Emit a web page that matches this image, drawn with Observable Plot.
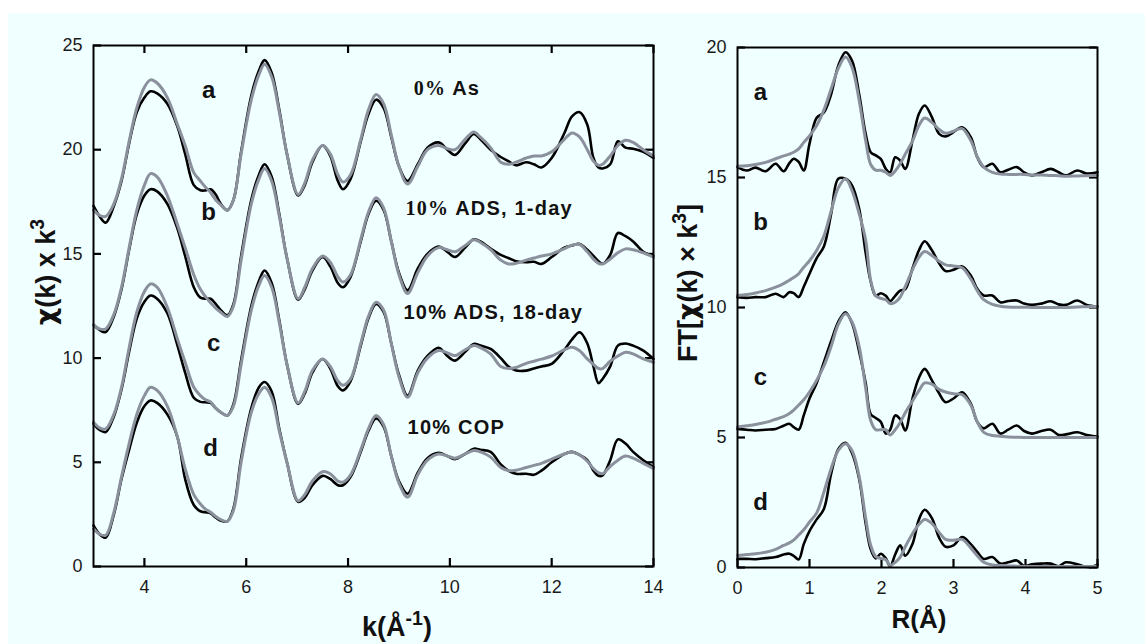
<!DOCTYPE html>
<html>
<head>
<meta charset="utf-8">
<script src="https://cdn.jsdelivr.net/npm/d3@7"></script>
<script src="https://cdn.jsdelivr.net/npm/@observablehq/plot@0.6"></script>
<style>
  html, body { margin: 0; padding: 0; background: #ffffff; }
  #page { position: relative; width: 1147px; height: 644px; overflow: hidden;
          font-family: "Liberation Sans", Arial, sans-serif; }
  #panel-bg { position: absolute; left: 8px; top: 13px; width: 1137px; height: 631px; background: #f0ffff; }
  .chart { position: absolute; top: 0; }
  .title { position: absolute; font-weight: bold; color: #111; white-space: nowrap;
           transform: translate(-50%, -50%); line-height: 1; }
  .title.rot { transform: translate(-50%, -50%) rotate(-90deg); }
  .title sup { font-size: 0.72em; vertical-align: 0.55em; line-height: 0; }
  .chi { font-family: "DejaVu Sans", sans-serif; }
</style>
</head>
<body>
<div id="page">
  <div id="panel-bg"></div>
  <div id="left" class="chart" style="left:0px"></div>
  <div id="right" class="chart" style="left:660px"></div>
  <div class="title" style="left:397px; top:627px; font-size:27px;">k(Å<sup>-1</sup>)</div>
  <div class="title" style="left:919px; top:619px; font-size:26px;">R(Å)</div>
  <div class="title rot" style="left:46px; top:272px; font-size:27px;"><span class="chi">χ</span>(k) x k<sup>3</sup></div>
  <div class="title rot" style="left:688px; top:283px; font-size:27px;">FT[<span class="chi">χ</span>(k) × k<sup>3</sup>]</div>
</div>
<script>
// ---- k-space EXAFS, chi(k)*k^3 (offset spectra) ----
const kGrid = [3.0, 3.12, 3.24, 3.4, 3.55, 3.7, 3.85, 4.0, 4.12, 4.25,
  4.45, 4.65, 4.8, 4.97, 5.1, 5.2, 5.3, 5.4, 5.5, 5.63,
  5.75, 5.9, 6.1, 6.25, 6.36, 6.5, 6.65, 6.8, 7.02, 7.15,
  7.3, 7.5, 7.65, 7.8, 7.9, 8.05, 8.25, 8.4, 8.55, 8.7,
  8.85, 9.0, 9.17, 9.37, 9.56, 9.78, 9.95, 10.1, 10.3, 10.47,
  10.6, 10.8, 11.0, 11.15, 11.3, 11.5, 11.65, 11.8, 12.0, 12.25,
  12.4, 12.55, 12.7, 12.82, 12.92, 13.0, 13.15, 13.3, 13.45, 13.6,
  13.8, 14.0];

const chiA = [17.3, 16.8, 16.5, 17.3, 18.5, 20.3, 21.8, 22.5, 22.8, 22.7,
  22.2, 21.1, 19.8, 18.3, 18.05, 18.05, 18.1, 17.85, 17.4, 17.1,
  17.6, 19.9, 22.6, 23.8, 24.3, 23.7, 21.9, 19.8, 17.8, 18.3,
  19.4, 20.2, 19.7, 18.5, 18.1, 18.6, 20.4, 21.7, 22.4, 22.0,
  20.6, 19.2, 18.5, 19.3, 20.1, 20.35, 20.0, 19.75, 20.3, 20.75,
  20.5, 20.0, 19.65, 19.45, 19.25, 19.4, 19.3, 19.15, 19.6, 20.8,
  21.6, 21.8, 21.2, 19.6, 19.15, 19.1, 19.3, 20.4, 20.1, 20.05,
  19.9, 19.6];
const chiAfit = [17.1, 16.85, 16.8, 17.4, 18.6, 20.4, 22.0, 23.0, 23.35, 23.2,
  22.5, 21.2, 20.2, 18.9, 18.5, 18.2, 17.95, 17.6, 17.35, 17.1,
  17.6, 19.8, 22.4, 23.6, 24.1, 23.5, 21.8, 19.8, 17.85, 18.4,
  19.5, 20.2, 19.8, 18.8, 18.45, 18.8, 20.5, 21.9, 22.65, 22.2,
  20.7, 19.2, 18.35, 19.2, 20.0, 20.2, 20.05, 20.0, 20.5, 20.85,
  20.6, 20.1, 19.4, 19.3, 19.4, 19.6, 19.7, 19.7, 19.9, 20.5,
  20.8, 20.6, 20.0, 19.45, 19.25, 19.3, 19.7, 20.2, 20.45, 20.35,
  20.0, 19.7];
const chiB = [11.6, 11.35, 11.25, 12.0, 13.3, 15.2, 16.9, 17.8, 18.1, 18.0,
  17.4, 16.2, 14.9, 13.4, 12.9, 12.85, 12.85, 12.6, 12.3, 12.05,
  12.6, 14.9, 17.6, 18.8, 19.3, 18.7, 16.9, 14.8, 12.8, 13.3,
  14.2, 14.85, 14.4, 13.6, 13.4, 13.9, 15.6, 16.9, 17.55, 17.1,
  15.6, 14.1, 13.25, 14.3, 15.0, 15.35, 15.1, 14.85, 15.3, 15.7,
  15.6, 15.25, 14.95, 14.8, 14.65, 14.6, 14.62, 14.52, 14.85, 15.3,
  15.4, 15.48, 15.2, 14.9, 14.65, 14.52, 14.95, 16.0, 15.85, 15.6,
  15.1, 14.9];
const chiBfit = [11.6, 11.4, 11.4, 12.1, 13.4, 15.3, 17.1, 18.3, 18.85, 18.7,
  17.8, 16.4, 15.3, 14.0, 13.3, 12.95, 12.65, 12.4, 12.2, 12.0,
  12.5, 14.7, 17.4, 18.6, 19.1, 18.5, 16.8, 14.8, 12.85, 13.4,
  14.3, 14.9, 14.6, 13.9, 13.65, 14.0, 15.7, 17.0, 17.7, 17.2,
  15.6, 14.0, 13.1, 14.1, 14.9, 15.3, 15.2, 15.1, 15.4, 15.68,
  15.55, 15.2, 14.7, 14.52, 14.55, 14.7, 14.8, 14.9, 15.0, 15.25,
  15.42, 15.45, 15.1, 14.75, 14.55, 14.52, 14.75, 15.05, 15.24, 15.2,
  15.05, 14.85];
const chiC = [6.85, 6.55, 6.45, 7.2, 8.5, 10.3, 11.9, 12.7, 13.0, 12.85,
  12.15, 10.6, 9.3, 8.1, 7.9, 7.88, 7.85, 7.6, 7.4, 7.25,
  7.8, 9.9, 12.5, 13.7, 14.2, 13.6, 11.8, 9.7, 7.8, 8.3,
  9.3, 9.96, 9.5, 8.65, 8.45, 8.9, 10.6, 11.9, 12.6, 12.2,
  10.7, 9.2, 8.2, 9.4, 10.1, 10.5, 10.1, 9.88, 10.3, 10.68,
  10.6, 10.44, 10.0, 9.6, 9.4, 9.4, 9.5, 9.6, 9.72, 10.4,
  10.9, 11.24, 10.7, 9.6, 8.8, 9.0, 9.6, 10.6, 10.7, 10.6,
  10.36, 9.96];
const chiCfit = [6.93, 6.65, 6.6, 7.3, 8.6, 10.5, 12.2, 13.2, 13.56, 13.4,
  12.44, 10.9, 9.8, 8.6, 8.2, 8.0, 7.9, 7.6, 7.4, 7.25,
  7.7, 9.7, 12.3, 13.5, 13.96, 13.4, 11.7, 9.7, 7.85, 8.4,
  9.4, 9.96, 9.6, 8.9, 8.7, 9.0, 10.7, 12.0, 12.68, 12.3,
  10.7, 9.1, 8.12, 9.3, 10.0, 10.36, 10.25, 10.12, 10.4, 10.6,
  10.5, 10.2, 9.6, 9.5, 9.55, 9.75, 9.85, 9.95, 10.1, 10.4,
  10.52, 10.35, 9.96, 9.7, 9.5, 9.5, 9.85, 10.1, 10.28, 10.2,
  9.96, 9.8];
const chiD = [1.97, 1.55, 1.38, 2.5, 4.2, 5.6, 6.9, 7.7, 7.97, 7.85,
  7.3, 6.2, 4.2, 2.95, 2.65, 2.6, 2.55, 2.35, 2.2, 2.17,
  2.8, 5.2, 7.6, 8.6, 8.85, 8.4, 6.6, 5.0, 3.1, 3.3,
  3.9, 4.35, 4.2, 3.9, 3.9, 4.3, 5.5, 6.5, 7.1, 6.7,
  5.3, 4.1, 3.49, 4.5, 5.2, 5.45, 5.3, 5.15, 5.4, 5.65,
  5.6, 5.5, 4.9, 4.6, 4.45, 4.45, 4.4, 4.6, 5.0, 5.4,
  5.5, 5.35, 5.1, 4.6, 4.35, 4.37, 5.1, 6.1, 5.9, 5.5,
  5.1, 4.77];
const chiDfit = [1.81, 1.55, 1.5, 2.6, 4.3, 5.9, 7.3, 8.2, 8.6, 8.45,
  7.7, 6.2, 4.7, 3.45, 3.0, 2.75, 2.6, 2.4, 2.25, 2.17,
  2.7, 5.0, 7.4, 8.3, 8.6, 8.1, 6.5, 5.0, 3.15, 3.45,
  4.1, 4.55, 4.45, 4.1, 4.05, 4.4, 5.6, 6.6, 7.25, 6.8,
  5.3, 4.0, 3.33, 4.4, 5.1, 5.4, 5.3, 5.2, 5.4, 5.57,
  5.5, 5.25, 4.75, 4.6, 4.62, 4.75, 4.85, 4.95, 5.15, 5.4,
  5.49, 5.35, 5.05, 4.7, 4.5, 4.45, 4.8, 5.1, 5.3, 5.2,
  4.95, 4.7];

// ---- R-space, |FT| (offset spectra) ----
const rGrid = [0, 0.13, 0.25, 0.39, 0.53, 0.64, 0.72, 0.78, 0.85, 0.92,
  1.0, 1.1, 1.2, 1.3, 1.4, 1.5, 1.59, 1.69, 1.78, 1.85,
  1.92, 1.99, 2.06, 2.12, 2.19, 2.26, 2.33, 2.43, 2.52, 2.6,
  2.7, 2.8, 2.89, 3.0, 3.12, 3.24, 3.33, 3.42, 3.54, 3.65,
  3.76, 3.88, 3.98, 4.09, 4.22, 4.35, 4.46, 4.56, 4.72, 4.85,
  5.0];

const ftA = [15.4, 15.27, 15.38, 15.24, 15.53, 15.24, 15.55, 15.72, 15.6, 15.27,
  16.3, 17.3, 17.5, 18.2, 19.3, 19.82, 19.5, 18.2, 16.68, 15.97,
  15.85, 15.72, 15.33, 15.2, 15.78, 15.65, 15.33, 16.42, 17.45, 17.77,
  17.32, 16.68, 16.58, 16.75, 16.93, 16.55, 15.78, 15.4, 15.53, 15.2,
  15.3, 15.4, 15.2, 15.08, 15.2, 15.33, 15.2, 15.08, 15.27, 15.15,
  15.2];
const ftAfit = [15.43, 15.45, 15.5, 15.58, 15.72, 15.83, 15.9, 15.97, 16.1, 16.35,
  16.6, 17.0, 17.6, 18.4, 19.2, 19.63, 19.24, 17.96, 16.42, 15.5,
  15.28, 15.28, 15.2, 15.08, 15.25, 15.53, 15.9, 16.4, 17.0, 17.29,
  17.12, 16.85, 16.7, 16.78, 16.88, 16.42, 15.8, 15.4, 15.2, 15.13,
  15.12, 15.12, 15.12, 15.1, 15.1, 15.08, 15.07, 15.05, 15.06, 15.07,
  15.08];
const ftB = [10.4, 10.37, 10.4, 10.4, 10.53, 10.4, 10.59, 10.55, 10.4, 10.8,
  11.3, 11.9, 12.35, 13.6, 14.95, 14.95, 14.7, 13.8, 12.1, 11.0,
  10.45, 10.55, 10.45, 10.25, 10.45, 10.65, 10.7, 11.5, 12.2, 12.55,
  12.2, 11.7, 11.4, 11.45, 11.58, 11.23, 10.72, 10.46, 10.46, 10.2,
  10.25, 10.27, 10.15, 10.1, 10.15, 10.24, 10.12, 10.1, 10.27, 10.1,
  10.04];
const ftBfit = [10.46, 10.5, 10.56, 10.65, 10.78, 10.92, 11.05, 11.15, 11.3, 11.55,
  11.8, 12.2, 12.75, 13.7, 14.6, 14.95, 14.5, 13.6, 12.6, 11.04,
  10.45, 10.35, 10.3, 10.15, 10.2, 10.4, 10.8, 11.45, 11.93, 12.15,
  12.0, 11.78, 11.64, 11.6, 11.53, 11.1, 10.65, 10.3, 10.12, 10.05,
  10.02, 10.01, 10.01, 10.0, 10.0, 10.0, 10.0, 10.0, 10.02, 10.03,
  10.04];
const ftC = [5.33, 5.3, 5.27, 5.3, 5.33, 5.45, 5.53, 5.4, 5.3, 5.85,
  6.5, 7.1, 7.9, 8.7, 9.45, 9.82, 9.4, 8.3, 7.1, 5.9,
  5.75, 5.6, 5.15, 5.3, 5.85, 5.7, 5.27, 6.5, 7.3, 7.64,
  7.2, 6.7, 6.36, 6.5, 6.74, 6.3, 5.6, 5.35, 5.53, 5.15,
  5.3, 5.46, 5.25, 5.15, 5.25, 5.3, 5.1, 5.12, 5.2, 5.1,
  5.04];
const ftCfit = [5.4, 5.45, 5.5, 5.58, 5.7, 5.8, 5.92, 6.05, 6.25, 6.45,
  6.75, 7.2, 7.75, 8.5, 9.35, 9.76, 9.45, 8.5, 6.9, 5.65,
  5.3, 5.3, 5.3, 5.1, 5.3, 5.58, 5.95, 6.4, 6.8, 7.1,
  7.05, 6.85, 6.75, 6.68, 6.65, 6.25, 5.6, 5.2, 5.08, 5.05,
  5.02, 5.01, 5.0, 5.0, 5.0, 5.0, 5.0, 5.0, 5.0, 5.0,
  5.0];
const ftD = [0.33, 0.33, 0.32, 0.36, 0.4, 0.5, 0.53, 0.45, 0.31, 0.9,
  1.4, 1.85, 2.25, 3.6, 4.55, 4.8, 4.4, 3.4, 1.7, 0.7,
  0.35, 0.53, 0.35, 0.05, 0.5, 0.85, 0.45, 0.9, 1.85, 2.22,
  1.9, 1.15, 0.8, 0.85, 1.17, 0.9, 0.6, 0.33, 0.4, 0.15,
  0.2, 0.27, 0.06, 0.12, 0.15, 0.15, 0.05, 0.2, 0.12, 0.02,
  0.1];
const ftDfit = [0.46, 0.5, 0.53, 0.59, 0.7, 0.85, 0.95, 1.05, 1.25, 1.45,
  1.75, 2.1, 2.9, 3.8, 4.5, 4.76, 4.5, 3.5, 1.9, 0.85,
  0.42, 0.35, 0.3, 0.08, 0.2, 0.4, 0.8, 1.3, 1.65, 1.85,
  1.7, 1.35, 1.08, 1.05, 1.08, 0.75, 0.45, 0.2, 0.1, 0.08,
  0.06, 0.05, 0.04, 0.04, 0.04, 0.04, 0.04, 0.04, 0.04, 0.04,
  0.04];

// ---- ticks, sample letters and sample descriptions ----
const kTicks = [4, 6, 8, 10, 12, 14];
const chiTicks = [0, 5, 10, 15, 20, 25];
const rTicks = [0, 1, 2, 3, 4, 5];
const ftTicks = [0, 5, 10, 15, 20];
const samples = ["a", "b", "c", "d"];
const sampleNotes = ["0% As", "10% ADS, 1-day", "10% ADS, 18-day", "10% COP"];

// label anchors (data units)
const letterK = [5.26, 5.26, 5.36, 5.3];
const letterChi = [22.84, 16.99, 10.7, 5.66];
const noteK = [9.29, 9.13, 9.09, 9.17];
const noteChi = [22.94, 17.18, 12.19, 6.67];
const letterR = [0.32, 0.32, 0.32, 0.32];
const letterFT = [18.27, 13.27, 7.31, 2.5];

const dataColor = "#000000";
const fitColor = "#8a919d";

function rows(grid, measured, fitted) {
  const out = [];
  samples.forEach((s, i) => {
    grid.forEach((x, j) => {
      out.push({s, kind: "data", x, v: measured[i][j]});
      out.push({s, kind: "fit", x, v: fitted[i][j]});
    });
  });
  return out;
}

const kRows = rows(kGrid, [chiA, chiB, chiC, chiD], [chiAfit, chiBfit, chiCfit, chiDfit]);
const rRows = rows(rGrid, [ftA, ftB, ftC, ftD], [ftAfit, ftBfit, ftCfit, ftDfit]);

// tick labels plus short inward tick marks drawn inside the frame
function frameAxes(xTicks, yTicks, innerW, innerH, withTopTicks) {
  const len = 8;
  const tk = {stroke: "#000", strokeWidth: 2.2};
  const marks = [
    Plot.axisY(yTicks, {anchor: "left", tickSize: 0, tickPadding: 11, label: null, fontSize: 18}),
    Plot.axisX(xTicks, {anchor: "bottom", tickSize: 0, tickPadding: 14, label: null, fontSize: 18}),
    Plot.tickY(yTicks, {y: d => d, insetRight: innerW - len, ...tk}),
    Plot.tickY(yTicks, {y: d => d, insetLeft: innerW - len, ...tk}),
    Plot.tickX(xTicks, {x: d => d, insetTop: innerH - len, ...tk})
  ];
  if (withTopTicks) marks.push(Plot.tickX(xTicks, {x: d => d, insetBottom: innerH - len, ...tk}));
  return marks;
}

const baseStyle = {background: "transparent", fontFamily: "'Liberation Sans', Arial, sans-serif",
                   fontSize: "18px", color: "#1a1a1a", overflow: "visible"};

const left = Plot.plot({
  width: 680, height: 644,
  marginLeft: 93, marginRight: 27, marginTop: 45, marginBottom: 78,
  style: baseStyle,
  x: {domain: [3, 14]},
  y: {domain: [0, 25]},
  marks: [
    ...frameAxes(kTicks, chiTicks, 560, 521, true),
    Plot.line(kRows.filter(d => d.kind === "data"), {x: "x", y: "v", z: "s", stroke: dataColor, strokeWidth: 2.6, curve: "catmull-rom"}),
    Plot.line(kRows.filter(d => d.kind === "fit"), {x: "x", y: "v", z: "s", stroke: fitColor, strokeWidth: 3, curve: "catmull-rom"}),
    Plot.text(samples, {x: (d, i) => letterK[i], y: (d, i) => letterChi[i], text: d => d,
      fontSize: 24, fontWeight: "bold", fill: "#111"}),
    Plot.text(sampleNotes, {x: (d, i) => noteK[i], y: (d, i) => noteChi[i], text: d => d,
      textAnchor: "start", fontSize: 20, fontWeight: "bold", fill: "#111"}),
    Plot.frame({stroke: "#000", strokeWidth: 2})
  ]
});

// sample descriptions: slightly spaced lettering, percentages of the first two in a serif face
left.querySelectorAll("text").forEach(t => {
  const s = t.textContent;
  if (!sampleNotes.includes(s)) return;
  t.setAttribute("letter-spacing", "1.2");
  const m = s.match(/^(\d+%)( ADS, 1-day| As)$/);
  if (m) {
    t.textContent = "";
    const a = document.createElementNS("http://www.w3.org/2000/svg", "tspan");
    a.setAttribute("font-family", "'Liberation Serif', 'Times New Roman', serif");
    a.textContent = m[1];
    const b = document.createElementNS("http://www.w3.org/2000/svg", "tspan");
    b.textContent = m[2];
    t.appendChild(a); t.appendChild(b);
  }
});
document.getElementById("left").appendChild(left);

const right = Plot.plot({
  width: 487, height: 644,
  marginLeft: 77, marginRight: 50, marginTop: 47, marginBottom: 77,
  style: baseStyle,
  x: {domain: [0, 5]},
  y: {domain: [0, 20]},
  marks: [
    ...frameAxes(rTicks, ftTicks, 360, 520, false),
    Plot.line(rRows.filter(d => d.kind === "data"), {x: "x", y: "v", z: "s", stroke: dataColor, strokeWidth: 2.6, curve: "catmull-rom"}),
    Plot.line(rRows.filter(d => d.kind === "fit"), {x: "x", y: "v", z: "s", stroke: fitColor, strokeWidth: 3, curve: "catmull-rom"}),
    Plot.text(samples, {x: (d, i) => letterR[i], y: (d, i) => letterFT[i], text: d => d,
      fontSize: 24, fontWeight: "bold", fill: "#111"}),
    Plot.frame({stroke: "#000", strokeWidth: 2})
  ]
});
document.getElementById("right").appendChild(right);
</script>
</body>
</html>
